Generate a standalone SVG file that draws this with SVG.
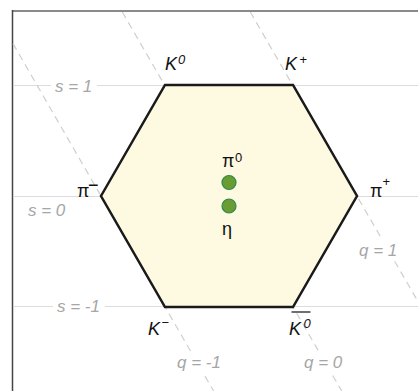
<svg xmlns="http://www.w3.org/2000/svg" width="418" height="391" viewBox="0 0 418 391">
<style>
.grid{stroke:#dcdcdc;stroke-width:1.2;fill:none}
.dash{stroke:#cfcfcf;stroke-width:1.2;stroke-dasharray:7 5;fill:none}
.bg{fill:#fff}
.axl{font-family:"Liberation Sans",Arial,sans-serif;font-style:italic;font-size:17px;fill:#a6a6a6}
.lbl{font-family:"Liberation Sans",Arial,sans-serif;font-size:18px;fill:#111}
.it{font-style:italic}
.sup{font-size:13px}
</style>
<rect width="418" height="391" fill="#fff"/>
<g id="frame">
<line x1="12" y1="11" x2="418" y2="11" stroke="#8a8a8a" stroke-width="2"/>
<line x1="12.5" y1="10" x2="12.5" y2="391" stroke="#444" stroke-width="1.5"/>
</g>
<g id="connectors">
<line class="grid" x1="13" y1="85.5" x2="418" y2="85.5"/>
<line class="grid" x1="13" y1="196.5" x2="418" y2="196.5"/>
<line class="grid" x1="13" y1="306.5" x2="418" y2="306.5"/>
<line class="dash" x1="122.3" y1="12" x2="341.7" y2="391"/>
<line class="dash" x1="250.3" y1="12" x2="418" y2="301.5"/>
<line class="dash" x1="13" y1="43.6" x2="213.6" y2="391"/>
</g>
<g id="axis-labels">
<rect class="bg" x="51" y="78" width="46" height="16"/>
<text class="axl" x="55" y="92">s = 1</text>
<text class="axl" x="28" y="216">s = 0</text>
<rect class="bg" x="53" y="298" width="52" height="16"/>
<text class="axl" x="57" y="312">s = -1</text>
<rect class="bg" x="356" y="240" width="48" height="20"/>
<text class="axl" x="359" y="256">q = 1</text>
<rect class="bg" x="301" y="352" width="48" height="20"/>
<text class="axl" x="304" y="368">q = 0</text>
<rect class="bg" x="173" y="352" width="52" height="20"/>
<text class="axl" x="177" y="368">q = -1</text>
</g>
<g id="hexagon">
<polygon points="101,196 165,85 293,85 357,196 293,307 165,307" fill="#fef9e1" stroke="#1a1a1a" stroke-width="2.5" stroke-linejoin="miter"/>
</g>
<g id="K0">
<text class="lbl it" x="165" y="69.5">K</text>
<text class="lbl it sup" x="178" y="64">0</text>
</g>
<g id="Kplus">
<text class="lbl it" x="285" y="70">K</text>
<text class="lbl sup" x="299.5" y="64">+</text>
</g>
<g id="piminus">
<text class="lbl" x="77" y="197">π</text>
<text class="lbl" font-size="16" x="88" y="190.5">−</text>
</g>
<g id="piplus">
<text class="lbl" x="370" y="197">π</text>
<text class="lbl sup" x="382.5" y="186">+</text>
</g>
<g id="Kminus">
<text class="lbl it" x="148" y="335">K</text>
<text class="lbl sup" x="161.5" y="327">−</text>
</g>
<g id="K0bar">
<text class="lbl it" x="289" y="335">K</text>
<text class="lbl it sup" x="303.5" y="328">0</text>
<line x1="291.5" y1="312" x2="310.5" y2="312" stroke="#111" stroke-width="1.2"/>
</g>
<g id="pi0">
<text class="lbl" x="222" y="167">π</text>
<text class="lbl sup" x="235" y="161.5">0</text>
<circle cx="229" cy="182.5" r="7" fill="#6a9c34" stroke="#2f8a4a" stroke-width="1.2"/>
</g>
<g id="eta">
<circle cx="229" cy="206" r="7" fill="#6a9c34" stroke="#2f8a4a" stroke-width="1.2"/>
<text class="lbl" x="222" y="235">η</text>
</g>
</svg>
